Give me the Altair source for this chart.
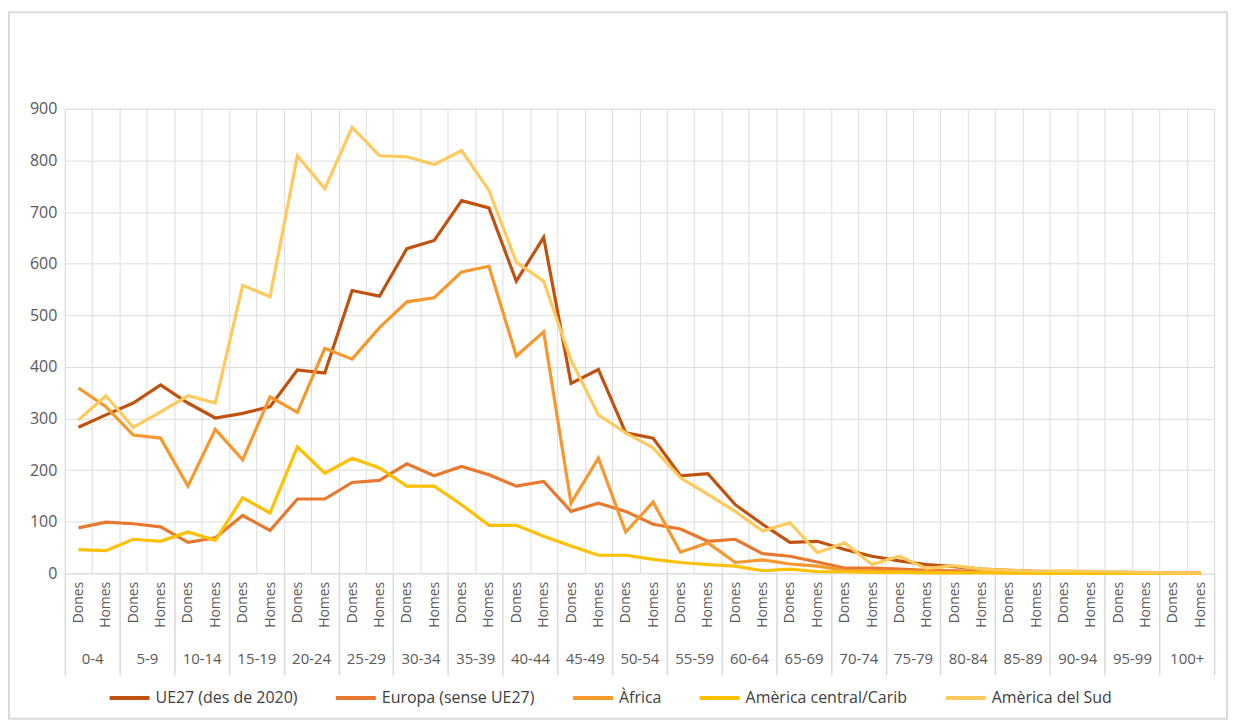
import altair as alt
import pandas as pd

ages = ["0-4", "5-9", "10-14", "15-19", "20-24", "25-29", "30-34", "35-39", "40-44",
        "45-49", "50-54", "55-59", "60-64", "65-69", "70-74", "75-79", "80-84", "85-89",
        "90-94", "95-99", "100+"]
sexes = ["Dones", "Homes"]

series_names = ["UE27 (des de 2020)", "Europa (sense UE27)", "Àfrica",
                "Amèrica central/Carib", "Amèrica del Sud"]
colors = ["#C0520F", "#E8782E", "#F7982F", "#FFC000", "#FFC95C"]

ue27 = [283, 307, 330, 365, 330, 301, 310, 323, 394, 388, 548, 537, 629, 645, 722, 708,
        566, 651, 368, 395, 272, 262, 189, 193, 133, 95, 60, 62, 46, 33, 24, 17, 13, 8,
        6, 4, 3, 2, 2, 1, 1, 0]
europa = [88, 99, 96, 90, 60, 69, 112, 83, 144, 144, 176, 180, 212, 189, 207, 191,
          169, 178, 120, 136, 120, 95, 86, 62, 66, 38, 33, 22, 10, 10, 8, 6, 5, 4,
          3, 2, 2, 1, 1, 0, 0, 0]
africa = [359, 323, 268, 262, 169, 279, 220, 342, 312, 436, 415, 476, 526, 534, 584, 595,
          421, 468, 136, 223, 80, 138, 41, 59, 21, 26, 18, 14, 6, 5, 4, 3, 2, 2,
          1, 1, 1, 0, 0, 0, 0, 0]
carib = [46, 44, 66, 62, 80, 64, 146, 117, 245, 194, 223, 204, 169, 169, 133, 93,
         93, 72, 53, 35, 35, 27, 21, 17, 14, 5, 8, 3, 3, 2, 2, 1, 1, 1,
         1, 0, 0, 0, 0, 0, 0, 0]
sud = [297, 344, 283, 313, 344, 330, 558, 536, 809, 745, 864, 809, 807, 792, 819, 742,
       603, 566, 413, 307, 272, 243, 185, 153, 120, 82, 98, 40, 59, 17, 33, 9, 15, 8,
       6, 4, 5, 4, 3, 2, 1, 1]

keys = [f"{a} {s}" for a in ages for s in sexes]
rows = []
for name, vals in zip(series_names, [ue27, europa, africa, carib, sud]):
    for k, v in zip(keys, vals):
        rows.append({"serie": name, "key": k, "age": k.split(" ")[0], "valor": v})
df = pd.DataFrame(rows)

W, H = 1153, 466
FONT = "Open Sans"
TXT = "#595959"
GRID = "#d9d9d9"

lines = alt.Chart(df).mark_line(strokeWidth=3.2).encode(
    x=alt.X("key:N", sort=keys,
            scale=alt.Scale(type="band", paddingInner=0, paddingOuter=0),
            axis=alt.Axis(title=None, labelExpr="split(datum.label, ' ')[1]",
                          labelAngle=-90, tickBand="extent", grid=True, ticks=False,
                          domain=False, labelPadding=8, labelFontSize=14,
                          labelColor=TXT, labelFont=FONT, labelOverlap=False)),
    y=alt.Y("valor:Q", scale=alt.Scale(domain=[0, 900], nice=False),
            axis=alt.Axis(title=None, values=list(range(0, 901, 100)), ticks=False,
                          domain=False, labelPadding=8, labelFontSize=16,
                          labelColor=TXT, labelFont=FONT)),
    color=alt.Color("serie:N", sort=series_names,
                    scale=alt.Scale(domain=series_names, range=colors),
                    legend=alt.Legend(title=None, orient="none", legendX=43, legendY=569,
                                      direction="horizontal", symbolType="stroke",
                                      symbolSize=1600, symbolStrokeWidth=4,
                                      labelFontSize=16, labelFont=FONT,
                                      labelColor="#404040", columnPadding=30,
                                      labelOffset=4, padding=0, labelLimit=0)),
    detail="serie:N",
)

age_axis = alt.Chart(df).mark_point(opacity=0).encode(
    x=alt.X("age:N", sort=ages,
            scale=alt.Scale(type="band", paddingInner=0, paddingOuter=0),
            axis=alt.Axis(orient="bottom", title=None, labelAngle=0, tickBand="extent",
                          ticks=True, tickSize=102, tickColor=GRID, tickWidth=1.5,
                          domain=False, grid=False, labelPadding=-24,
                          labelBaseline="top", labelFontSize=15, labelColor=TXT,
                          labelFont=FONT, labelOverlap=False)),
    y=alt.value(0),
)

frame = alt.Chart(pd.DataFrame({"f": [0]})).mark_rect(
    fill="transparent", stroke=GRID, strokeWidth=2
).encode(
    x=alt.value(-56), x2=alt.value(1166), y=alt.value(-97), y2=alt.value(612)
)

chart = alt.layer(frame, lines, age_axis).resolve_scale(x="independent").properties(
    width=W, height=H,
    autosize=alt.AutoSizeParams(type="none"),
    padding={"left": 57, "top": 100, "right": 15, "bottom": 148},
).configure_view(stroke=GRID, strokeWidth=1.5).configure_axis(
    gridColor=GRID, gridWidth=1.5
).configure(background="white")

chart.save("out.html", embed_options={"renderer": "svg", "actions": False})
